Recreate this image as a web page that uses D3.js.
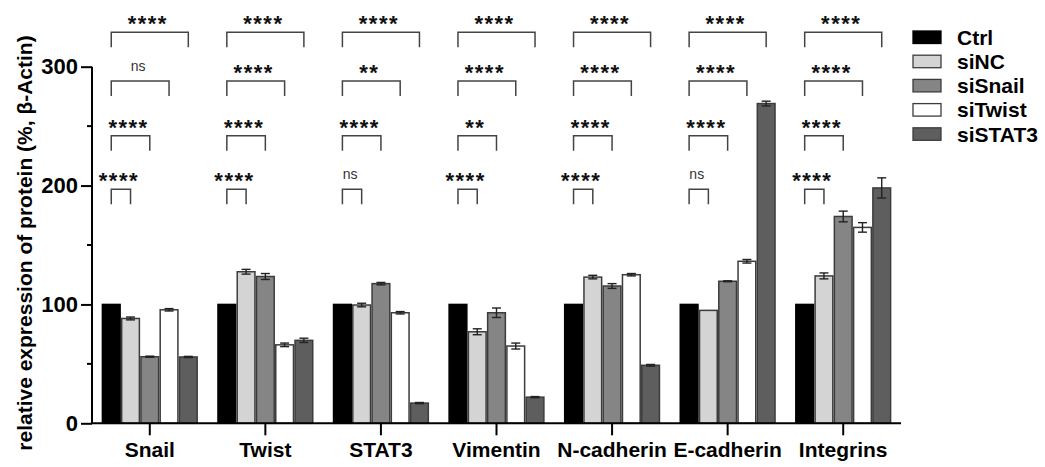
<!DOCTYPE html>
<html>
<head>
<meta charset="utf-8">
<script src="https://cdn.jsdelivr.net/npm/d3@7"></script>
<style>
  body { margin: 0; background: #fff; }
  text { font-family: "Liberation Sans", Arial, sans-serif; }
</style>
</head>
<body>
<svg id="chart" width="1045" height="467"></svg>
<script>
// values (% of beta-actin, Ctrl = 100)
var categories = ["Snail", "Twist", "STAT3", "Vimentin", "N-cadherin", "E-cadherin", "Integrins"];
var groups = ["Ctrl", "siNC", "siSnail", "siTwist", "siSTAT3"];
var colors = ["#000000", "#d4d4d4", "#858585", "#ffffff", "#5e5e5e"];

var ctrl    = [100, 100, 100, 100, 100, 100, 100];
var siNC    = [88.2, 127.5, 99.5, 77, 123, 95, 124];
var siSnail = [56, 123.5, 117.5, 93, 115.5, 119.5, 174];
var siTwist = [95.5, 66, 93, 65, 125, 136.3, 164.8];
var siSTAT3 = [55.8, 69.8, 17, 22, 48.8, 269, 198];

var errCtrl  = [0, 0, 0, 0, 0, 0, 0];
var errNC    = [1.2, 2, 1.5, 2.5, 1.5, 0, 2.5];
var errSnail = [0.5, 2.5, 1, 4, 2, 0.4, 4.5];
var errTwist = [1, 1.5, 1, 2.5, 1, 1.5, 4];
var errSTAT3 = [0.5, 1.8, 0.5, 0.5, 0.7, 2, 8.5];

// significance vs Ctrl, one bracket level per comparison
var sigNC    = ["****", "****", "ns", "****", "****", "ns", "****"];
var sigSnail = ["****", "****", "****", "**", "****", "****", "****"];
var sigTwist = ["ns", "****", "**", "****", "****", "****", "****"];
var sigSTAT3 = ["****", "****", "****", "****", "****", "****", "****"];
var bracketLevels = [197, 242, 288, 329];

var yTicks = [0, 100, 200, 300];
var yMinor = [50, 150, 250];

var means = [ctrl, siNC, siSnail, siTwist, siSTAT3];
var errs = [errCtrl, errNC, errSnail, errTwist, errSTAT3];
var sigs = [sigNC, sigSnail, sigTwist, sigSTAT3];

var svg = d3.select("#chart");
var mLeft = 92, mRight = 901, mBottom = 423.3, mTop = 66.7;

var y = d3.scaleLinear().domain([0, 300]).range([mBottom, mTop]);
var x0 = d3.scaleBand().domain(categories).range([mLeft, mRight]).paddingInner(0.18).paddingOuter(0.09);
var x1 = d3.scaleBand().domain(groups).range([0, x0.bandwidth()]).paddingInner(0.08);

// flatten to one record per bar
var rows = [];
categories.forEach(function(c, i) {
  groups.forEach(function(g, j) {
    rows.push({cat: c, grp: g, gi: j, v: means[j][i], e: errs[j][i]});
  });
});

var g = svg.append("g");

g.selectAll("rect.bar")
  .data(rows)
  .enter()
  .append("rect")
  .attr("class", "bar")
  .attr("x", function(d) { return x0(d.cat) + x1(d.grp); })
  .attr("y", function(d) { return y(d.v); })
  .attr("width", x1.bandwidth())
  .attr("height", function(d) { return y(0) - y(d.v); })
  .attr("fill", function(d) { return colors[d.gi]; })
  .attr("stroke", function(d) { return d.gi == 0 ? "#000" : "#3c3c3c"; })
  .attr("stroke-width", 1.5);

// error bars
var eb = g.selectAll("g.err")
  .data(rows.filter(function(d) { return d.e > 0; }))
  .enter()
  .append("g")
  .attr("class", "err")
  .attr("stroke", "#222")
  .attr("stroke-width", 1.4);
function cx(d) { return x0(d.cat) + x1(d.grp) + x1.bandwidth() / 2; }
eb.append("line")
  .attr("x1", cx).attr("x2", cx)
  .attr("y1", function(d) { return y(d.v + d.e); })
  .attr("y2", function(d) { return y(d.v - d.e); });
[1, -1].forEach(function(s) {
  eb.append("line")
    .attr("x1", function(d) { return cx(d) - 4.5; })
    .attr("x2", function(d) { return cx(d) + 4.5; })
    .attr("y1", function(d) { return y(d.v + s * d.e); })
    .attr("y2", function(d) { return y(d.v + s * d.e); });
});

// axes
var yAxis = d3.axisLeft(y).tickValues(yTicks).tickSize(11).tickPadding(3);
var ya = svg.append("g").attr("transform", "translate(" + mLeft + ",0)").call(yAxis);
ya.selectAll("text").attr("font-size", 22).attr("font-weight", "bold").attr("fill", "#000")
  .style("font-family", "'Liberation Sans', Arial, sans-serif");
ya.selectAll("line").attr("stroke-width", 2);
ya.select(".domain").attr("stroke-width", 2).attr("d", "M0," + y(0) + "V" + y(300));
ya.selectAll("line.minor")
  .data(yMinor)
  .enter()
  .append("line")
  .attr("class", "minor")
  .attr("x1", -5).attr("x2", 0)
  .attr("y1", function(d) { return y(d); }).attr("y2", function(d) { return y(d); })
  .attr("stroke", "#000").attr("stroke-width", 2);

var xAxis = d3.axisBottom(x0).tickSize(12).tickPadding(7);
var xa = svg.append("g").attr("transform", "translate(0," + mBottom + ")").call(xAxis);
xa.selectAll("text").attr("font-size", 21).attr("font-weight", "bold").attr("fill", "#000")
  .style("font-family", "'Liberation Sans', Arial, sans-serif");
xa.selectAll("line").attr("stroke-width", 2);
xa.select(".domain").attr("stroke-width", 2).attr("d", "M" + mLeft + ",0H" + mRight);

svg.append("text")
  .attr("transform", "translate(32," + 243 + ") rotate(-90)")
  .attr("text-anchor", "middle")
  .attr("font-size", 21)
  .attr("font-weight", "bold")
  .text("relative expression of protein (%, β-Actin)");

// significance brackets, Ctrl against each other group
categories.forEach(function(c, i) {
  var xa0 = x0(c) + x1("Ctrl") + x1.bandwidth() / 2;
  sigs.forEach(function(s, k) {
    var grp = groups[k + 1];
    var xb = x0(c) + x1(grp) + x1.bandwidth() / 2;
    var yl = y(bracketLevels[k]);
    svg.append("path")
      .attr("d", "M" + xa0 + "," + (yl + 15) + "V" + yl + "H" + xb + "V" + (yl + 15))
      .attr("fill", "none")
      .attr("stroke", "#444")
      .attr("stroke-width", 1.5);
    var lab = s[i];
    var t = svg.append("text")
      .attr("x", (xa0 + xb) / 2 - 2)
      .attr("text-anchor", "middle")
      .text(lab);
    if (lab == "ns")
      t.attr("y", yl - 10).attr("font-size", 14).attr("fill", "#333");
    else
      t.attr("y", yl - 1).attr("font-size", 22).attr("font-weight", "bold")
       .attr("letter-spacing", "1.5px").attr("fill", "#111");
  });
});

// legend
var lg = svg.append("g").attr("transform", "translate(913,31)");
var li = lg.selectAll("g")
  .data(groups)
  .enter()
  .append("g")
  .attr("transform", function(d, i) { return "translate(0," + (i * 24.2) + ")"; });
li.append("rect")
  .attr("width", 28).attr("height", 12.5)
  .attr("fill", function(d, i) { return colors[i]; })
  .attr("stroke", function(d, i) { return i == 0 ? "#000" : "#3c3c3c"; })
  .attr("stroke-width", 1.3);
li.append("text")
  .attr("x", 44).attr("y", 6.5)
  .attr("dy", "0.35em")
  .attr("font-size", 21)
  .attr("font-weight", "bold")
  .text(function(d) { return d; });
</script>
</body>
</html>
